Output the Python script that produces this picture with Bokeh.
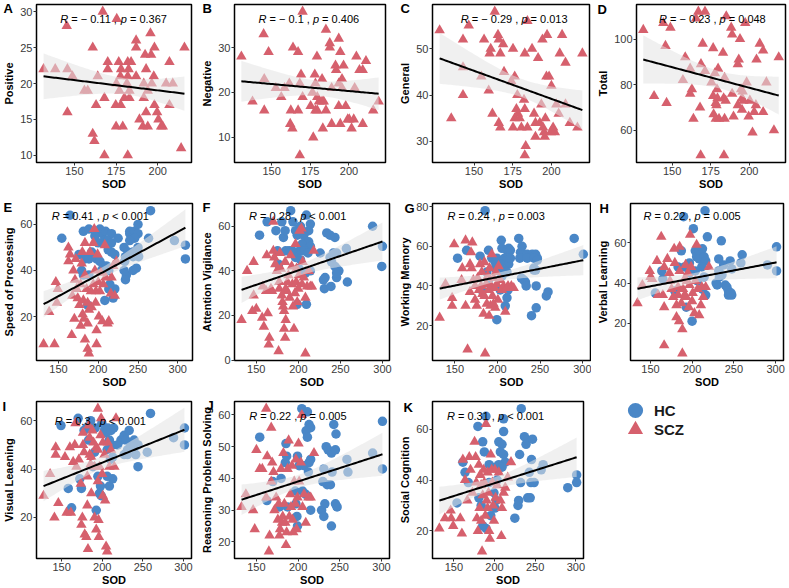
import numpy as np
from bokeh.plotting import figure
from bokeh.models import Range1d, Label, Legend, LegendItem, FixedTicker
from bokeh.layouts import row, column
from bokeh.embed import file_html
from bokeh.resources import INLINE

RED = "#D6606D"
BLUE = "#4A87C7"
FONT = "Liberation Sans"

# ---------------- data ----------------
pos_sod = [131.5, 138.5, 145.4, 145.8, 148.8, 145.8, 156, 158, 161, 164, 163, 161, 162, 167, 168, 168, 170, 170, 175.4, 176.6, 178, 177.6, 175.2, 174.8, 175, 179, 177, 177.8, 180, 182, 184, 182.5, 182, 181.5, 183, 183, 182, 187, 187, 187, 189, 191, 191.6, 191.6, 192.4, 193, 193, 194, 195.6, 196, 194, 196.4, 197.6, 198, 198, 199.6, 200.4, 202, 203, 205, 207, 207, 209, 214, 216]
pos_score = [22, 22, 28, 22, 21, 16, 19, 19, 25, 21, 17, 13, 12, 30, 10, 18, 23, 22, 29, 23, 22, 21, 20, 17, 14, 14, 19, 17, 18, 23, 23, 22, 21, 20, 19, 18, 10, 26, 25, 21, 15, 14, 20, 18, 24, 22, 16, 14, 27, 24, 19, 20, 21, 25, 17, 16, 15, 14, 14, 20, 23, 17, 20, 11, 25]

neg_sod = [130.4, 137.6, 144.8, 145.2, 145.2, 148, 152.7, 156.2, 158.3, 161.4, 163.8, 162.4, 162, 163.4, 167.1, 167.1, 168.2, 169, 168.2, 170, 170, 175.2, 176.4, 176.9, 177.9, 179.3, 178.3, 178.3, 179.5, 179.5, 180.6, 182.6, 182.6, 183.7, 183.1, 185.1, 185.1, 187.6, 187.6, 188.8, 188.8, 191.3, 191.7, 193.4, 193.4, 194.4, 195.5, 193.4, 194.4, 196.5, 195.5, 197.9, 199.2, 200.2, 201.7, 203.1, 203.7, 204.8, 206.8, 208.9, 208.9, 211, 215.7, 219.2]
neg_score = [28, 18, 33, 23, 16, 29, 21, 19, 21, 22, 30, 16, 13, 12, 29, 16, 6, 24, 22, 19, 38, 17, 20, 10, 24, 28, 22, 16, 16, 19, 18, 23, 18, 18, 12, 16, 34, 31, 30, 21, 13, 26, 25, 32, 22, 29, 23, 17, 13, 26, 21, 17, 14, 14, 12, 14, 21, 28, 25, 25, 13, 27, 16, 18]

gen_sod = [127.8, 135.3, 142.9, 142.9, 142.9, 146.6, 154.7, 156.5, 159.5, 160.1, 160.8, 161.9, 163.4, 165.5, 166, 166, 167, 167, 168.8, 169.4, 174.1, 175.2, 176.3, 175.2, 176.3, 177.4, 178, 178.4, 179.5, 180.6, 182.3, 182.8, 182.8, 183.4, 182.8, 184.5, 184.5, 187.5, 188.8, 189.7, 189.7, 191.4, 193.5, 194.2, 192.5, 194.6, 195.3, 195.7, 196.1, 196.8, 197.2, 198.5, 199.6, 201.1, 202.2, 200, 203.2, 204.7, 205.4, 206.9, 209.1, 209.1, 211.9, 216.8, 220]
gen_score = [54, 35, 52, 46, 40, 55, 44, 52, 41, 49, 50, 36, 58, 53, 52, 34, 33, 49, 51, 45, 43, 50, 44, 33, 35, 37, 40, 36, 35, 33, 39, 49, 37, 29, 27, 33, 56, 50, 36, 34, 31, 48, 38, 52, 34, 33, 32, 31, 35, 44, 53, 44, 32, 33, 32, 42, 38, 36, 49, 53, 47, 38, 34, 33, 49]

tot_sod = [131.3, 138.3, 144.3, 145.7, 146.4, 148.9, 158.5, 157, 161.7, 162.8, 161.7, 163.8, 165.5, 167, 171.3, 168.1, 168.7, 169.8, 168.5, 171.3, 176.6, 177.7, 179.8, 175.5, 176.6, 176.9, 178.3, 178.3, 179.1, 179.4, 180.4, 178.7, 183, 183.4, 184, 184.7, 184, 183.6, 185.1, 188.3, 188.9, 188.9, 189.8, 192.6, 193.2, 194, 192.6, 194.7, 195.3, 195.3, 195.7, 196.2, 197.4, 198.3, 199.6, 200.4, 202.1, 203.2, 204.3, 204.7, 206.8, 209, 209, 211.1, 216, 219.1]
tot_score = [104, 75, 107, 97, 72, 105, 92, 82, 87, 78, 76, 65, 109, 112, 112, 70, 89, 98, 49, 86, 96, 85, 87, 81, 75, 67, 65, 72, 78, 74, 65, 71, 94, 74, 83, 73, 65, 49, 110, 105, 102, 76, 66, 89, 91, 100, 71, 78, 74, 69, 77, 73, 107, 81, 66, 73, 59, 68, 71, 91, 98, 95, 68, 81, 60, 92]

sop_scz_sod = [131.3, 145, 146.7, 138.3, 149.2, 148, 162.5, 164.6, 162.5, 167.5, 166.7, 170, 170.8, 171.7, 172.9, 174.2, 176.3, 177.9, 179.2, 180, 181.3, 180.4, 182, 183.3, 183.3, 185.4, 186.7, 186.7, 188.3, 186.7, 188.3, 189.6, 191.7, 193.8, 195, 195.8, 197.1, 197.9, 197.9, 199.2, 200, 200.8, 202.1, 203.3, 205, 206.3, 208.3, 209.2, 211.7, 213.3, 215.8, 216.7, 218.8, 220.8, 222.9, 168.8, 190.8, 193.8, 196.7, 183.3, 177.9]
sop_scz = [8, 8, 35, 22, 32, 26, 50, 47, 44, 29, 12, 19, 36, 45, 32, 28, 25, 16, 43, 48, 27, 21, 19, 10, 52, 32, 26, 17, 23, 6, 4, 48, 24, 52, 58, 40, 31, 14, 8, 47, 35, 20, 31, 39, 18, 34, 51, 37, 17, 18, 30, 37, 42, 29, 44, 40, 31, 34, 26, 38, 34]
sop_hc_sod = [164.6, 154.2, 181.3, 188.3, 202.1, 205, 209.2, 216.7, 207.5, 211.7, 216.7, 212.5, 216.7, 220.8, 175.8, 183.3, 188.3, 191.7, 197.9, 202.1, 206.3, 210.4, 213.3, 204.2, 179.2, 181.3, 188.3, 220.8, 217.5, 213.3, 214.6, 208.3, 186.7, 218.8, 232.5, 234.2, 239.6, 239.6, 245.8, 250, 250, 245.8, 239.6, 232.5, 235.4, 234.2, 243.8, 247.9, 250, 250.8, 243.8, 233.3, 237.5, 243.8, 265.8, 295.8, 309.6, 309.6, 263.3, 225, 200, 195.8]
sop_hc = [64, 54, 57, 58, 58, 56, 57, 56, 53, 53, 52, 49, 48, 47, 47, 45, 45, 48, 45, 44, 42, 42, 40, 40, 40, 38, 38, 32, 31, 32, 34, 27, 25, 28, 50, 46, 56, 57, 57, 60, 56, 54, 53, 40, 38, 36, 40, 41, 50, 46, 46, 44, 48, 48, 66, 53, 51, 45, 54, 54, 52, 55]

av_scz_sod = [132.5, 139.1, 146.9, 146.9, 145.3, 150, 157, 159, 162.5, 163.6, 165.6, 164.8, 167.5, 168.7, 170.3, 170.3, 171.4, 172.6, 174.5, 176.5, 177.3, 177.3, 178, 180.4, 181.2, 182, 183.1, 183.1, 184.3, 184.3, 185, 186.2, 187, 188.2, 189.7, 190.9, 192.1, 192.9, 193.6, 194.8, 196, 196.7, 197.5, 197.9, 198.7, 199.9, 200.6, 201.4, 203.7, 204.5, 205.3, 206.5, 208.4, 208.4, 210.4, 212.3, 214.3, 216.2, 218.2, 185, 179.2, 157.8, 161.7]
av_scz = [18, 40, 44, 29, 22, 23, 19, 15, 47, 21, 10, 7, 32, 31, 49, 62, 46, 43, 40, 4, 35, 32, 48, 29, 26, 24, 22, 14, 10, 44, 18, 31, 35, 38, 28, 47, 42, 34, 24, 14, 30, 52, 35, 41, 26, 32, 38, 58, 59, 34, 44, 37, 3, 28, 33, 40, 33, 33, 49, 32, 41, 33, 31]
av_hc_sod = [153.9, 162.9, 173.4, 180.4, 190.9, 182.3, 184.3, 193.6, 196.7, 202.6, 209.6, 214.3, 212.3, 198.7, 206.5, 208.4, 212.3, 204.5, 214.3, 201.4, 207.6, 211.5, 189, 192.9, 185, 175.3, 176.5, 196.7, 202.6, 200.6, 214.3, 208.4, 198.7, 209.6, 226, 231, 231.8, 229.9, 233.8, 237.7, 243.5, 237.7, 239.6, 241.6, 245.5, 243.5, 245.5, 245.5, 248.2, 238.8, 258.3, 257.1, 288.3, 300, 299.2, 245.5]
av_hc = [56, 62, 58, 62, 67, 55, 58, 62, 58, 60, 65, 61, 58, 56, 56, 53, 53, 52, 51, 49, 49, 48, 49, 49, 49, 49, 43, 46, 45, 41, 40, 39, 25, 25, 48, 32, 37, 36, 57, 56, 55, 46, 44, 48, 48, 42, 41, 37, 40, 33, 35, 50, 60, 51, 42, 39]

wm_scz_sod = [132.2, 139, 146.8, 146.8, 149.2, 157.9, 162.6, 162.6, 164.9, 170.5, 169, 167.8, 167.8, 169.7, 171.7, 173.7, 175.7, 176.8, 178.4, 179.6, 181.6, 182.4, 183.6, 184.7, 185.5, 186.7, 187.5, 188.7, 189.5, 190.7, 191.8, 192.6, 193.4, 194.2, 195.4, 196.6, 197.4, 198.2, 199.3, 200.5, 201.3, 203.3, 205.3, 207.2, 209.2, 211.2, 212.4, 216.3, 219.1, 158.7, 173.7, 180.8, 184.7, 190.3, 195.4]
wm_scz = [24, 41, 34, 30, 61, 43, 63, 30, 8, 62, 57, 51, 37, 49, 43, 33, 30, 44, 38, 51, 47, 36, 26, 52, 6, 41, 31, 45, 38, 49, 30, 40, 56, 35, 44, 39, 29, 47, 41, 33, 50, 43, 38, 40, 27, 39, 40, 40, 39, 49, 40, 40, 35, 25, 31]
wm_hc_sod = [153.2, 163.8, 185.5, 179.6, 189.5, 187.5, 193.4, 197.4, 199.3, 204.5, 205.3, 211.2, 213.2, 215.2, 208.4, 211.2, 213.2, 215.2, 203.3, 207.2, 211.2, 205.3, 197.4, 189.5, 181.6, 199.3, 209.2, 211.2, 212.4, 203.3, 225, 227, 230.1, 226.2, 228.9, 234.9, 240.8, 244.8, 246.8, 234.9, 242.8, 246.8, 228.2, 231, 232.9, 233.7, 242.8, 242.8, 240, 245.5, 245.5, 257.4, 259.4, 290.1, 300.8, 244.8]
wm_hc = [54, 58, 78, 55, 58, 47, 54, 52, 54, 63, 59, 58, 59, 58, 54, 53, 51, 54, 51, 48, 47, 45, 49, 43, 38, 23, 30, 34, 38, 38, 64, 57, 56, 54, 60, 56, 56, 56, 54, 54, 54, 53, 44, 43, 42, 40, 49, 48, 25, 40, 29, 35, 37, 64, 56, 48]

vl_scz_sod = [134.4, 140.3, 149.2, 150, 152, 157.8, 158.9, 162.9, 164.8, 166.4, 166.4, 166.4, 170.3, 172.6, 173.4, 175.3, 178.4, 179.2, 181.2, 181.2, 183.1, 184.3, 185, 185, 187, 188.2, 188.2, 189, 190.9, 192.1, 192.9, 194.8, 196, 196.7, 197.5, 198.7, 199.9, 200.6, 202.6, 203.7, 205.3, 206.5, 208.4, 210.4, 211.5, 213.1, 216.2, 220.1, 177.3, 183.1, 190.9, 193.6]
vl_scz = [30, 39, 46, 43, 42, 51, 34, 63, 34, 9, 28, 48, 52, 45, 41, 37, 57, 50, 29, 23, 34, 21, 58, 46, 30, 17, 5, 37, 42, 49, 33, 45, 28, 39, 64, 48, 31, 35, 25, 41, 59, 37, 24, 29, 38, 33, 38, 48, 33, 38, 34, 41]
vl_hc_sod = [155.8, 163.6, 164.8, 187, 189.7, 183.1, 196.7, 201.4, 203.7, 205.3, 208.4, 212.3, 215.4, 218.2, 208.4, 214.3, 216.2, 211.5, 203.7, 196.7, 190.9, 214.3, 216.2, 212.3, 206.5, 199.9, 231.8, 234.9, 231.8, 232.6, 229.9, 228.7, 235.7, 239.6, 241.6, 245.5, 247.4, 243.5, 243.5, 247.4, 246.6, 259.9, 258.3, 290.2, 301.1, 301.1, 237.7, 179.2, 192.9]
vl_hc = [35, 46, 42, 56, 73, 48, 50, 67, 56, 53, 56, 57, 76, 63, 52, 53, 51, 48, 46, 45, 48, 43, 34, 37, 41, 21, 52, 61, 46, 43, 39, 40, 44, 39, 38, 51, 47, 36, 34, 34, 35, 54, 50, 49, 58, 46, 49, 36, 28]

vis_scz_sod = [127.7, 135.8, 141.1, 142.7, 142.7, 145.9, 154.1, 156.1, 160.1, 161.4, 164.2, 166.2, 167, 168.2, 171.1, 173.5, 174.3, 175.5, 176.3, 176.3, 177.6, 178.4, 180.4, 181.6, 181.6, 182.4, 183.2, 184.5, 184.5, 185.7, 186.5, 187.7, 189.3, 190.5, 190.5, 192.6, 192.6, 194.6, 194.6, 195.4, 195.8, 196.6, 197.8, 198.6, 199.9, 200.7, 202.7, 203.5, 204.7, 206, 206.8, 208.8, 210.8, 214.9, 216.9, 200.7, 186.5, 194.6]
vis_scz = [29, 38, 20, 49, 46, 26, 45, 22, 49, 22, 43, 50, 59, 41, 44, 34, 17, 20, 55, 50, 47, 13, 12, 25, 37, 7, 58, 46, 53, 42, 30, 56, 51, 41, 20, 15, 49, 65, 48, 19, 12, 41, 54, 61, 38, 51, 46, 27, 8, 6, 51, 41, 48, 41, 61, 29, 45, 35]
vis_hc_sod = [149.2, 158.1, 162.2, 170.3, 172.3, 174.3, 177.6, 183.2, 185.7, 188.5, 190.5, 191.3, 194.6, 196.6, 198.6, 197.8, 192.6, 199.5, 202.7, 204.7, 206.8, 210.8, 214.1, 208.8, 212, 206, 210, 212.8, 208.8, 212.8, 206, 223, 227, 229, 233.1, 231.1, 227, 231.1, 235.1, 239.2, 239.2, 241.2, 244, 244, 255.4, 259.4, 287.8, 301.2, 301.2, 218.9, 180.4]
vis_hc = [58, 32, 24, 61, 36, 32, 56, 52, 60, 41, 47, 57, 37, 30, 29, 33, 23, 59, 56, 55, 57, 56, 57, 52, 50, 48, 44, 45, 33, 36, 37, 52, 54, 52, 56, 48, 46, 46, 50, 52, 49, 46, 50, 41, 47, 63, 53, 57, 50, 50, 57]

rps_scz_sod = [132.2, 137.4, 146.1, 148, 150, 157.1, 161.8, 163, 161.8, 165, 165.8, 167.8, 169, 170.5, 171.7, 173.7, 175.7, 176.8, 177.6, 178.4, 179.6, 180.8, 181.6, 182.4, 183.6, 184.7, 185.5, 186.3, 187.5, 188.7, 189.5, 190.7, 191.5, 192.6, 193.4, 194.2, 195.4, 196.6, 197.4, 198.2, 199.3, 200.5, 201.3, 203.3, 204.5, 205.3, 207.2, 209.2, 212.4, 215.1, 219.1, 167.8, 154]
rps_scz = [31, 35, 30, 24, 49, 43, 62, 47, 34, 17, 22, 56, 45, 42, 30, 34, 27, 32, 22, 24, 43, 26, 28, 48, 32, 26, 19, 23, 43, 52, 28, 35, 31, 44, 27, 23, 39, 32, 46, 24, 34, 51, 39, 45, 60, 31, 35, 26, 34, 34, 48, 39, 43]
rps_hc_sod = [154, 162.6, 179.6, 184.7, 185.5, 186.3, 187.5, 196.6, 197.4, 198.6, 199.3, 199.3, 201.3, 204.5, 211.2, 213.2, 215.1, 209.6, 211.2, 207.2, 213.2, 215.1, 212.4, 215.1, 209.2, 205.3, 228.2, 230.9, 232.1, 233.7, 236.1, 230.9, 229.7, 234.9, 238.8, 240, 242.8, 244.8, 245.5, 244.8, 246.8, 240, 240.8, 258.6, 259.8, 289.4, 301.2, 301.2, 169.7, 177.6]
rps_hc = [53, 33, 40, 45, 51, 47, 31, 36, 32, 28, 25, 47, 44, 62, 61, 57, 56, 55, 53, 44, 45, 46, 42, 30, 35, 36, 30, 28, 32, 50, 49, 43, 39, 38, 38, 48, 57, 49, 54, 32, 31, 25, 42, 46, 42, 48, 58, 43, 39, 31]

sc_scz_sod = [132.2, 139, 146.1, 146.8, 149.2, 157.9, 159.9, 161.1, 163.8, 166.6, 169, 170.5, 172.9, 175.5, 176.8, 177.6, 178.4, 179.6, 180.8, 181.6, 182.4, 183.6, 184.7, 185.5, 186.7, 187.5, 188.7, 189.5, 190.3, 191.5, 192.6, 193.4, 194.2, 195.4, 196.6, 197.4, 198.2, 199.3, 200.5, 201.3, 203.3, 205.3, 207.2, 208.4, 209.2, 211.2, 213.2, 216.3, 220.3, 183.6, 191.5]
sc_scz = [21, 25, 28, 25, 22, 25, 19, 48, 40, 32, 49, 44, 35, 55, 49, 39, 25, 20, 46, 29, 42, 24, 12, 34, 44, 39, 26, 62, 32, 43, 35, 20, 17, 50, 44, 39, 30, 24, 44, 33, 38, 43, 32, 18, 29, 35, 37, 41, 47, 38, 29]
sc_hc_sod = [153.9, 161.1, 163.8, 167.8, 179.6, 185.5, 187.5, 189.5, 180.8, 183.6, 185.5, 189.5, 193.4, 195.4, 200.5, 202.1, 199.3, 203.3, 205.3, 209.2, 211.2, 211.2, 207.2, 211.2, 213.2, 205.3, 209.2, 200.5, 193.4, 225, 228.9, 229.7, 230.9, 232.1, 232.9, 236.8, 238.8, 240.8, 243.9, 244.8, 245.5, 246.7, 242.8, 248.7, 257.4, 259.8, 290.1, 301, 301]
sc_hc = [31, 47, 43, 39, 61, 55, 51, 65, 33, 30, 22, 21, 39, 26, 29, 32, 35, 40, 55, 54, 59, 64, 51, 50, 47, 46, 45, 45, 46, 25, 30, 32, 50, 39, 68, 57, 54, 33, 33, 39, 48, 56, 43, 39, 44, 46, 37, 42, 39]

panel_letters = ["A", "B", "C", "D", "E", "F", "G", "H", "I", "J", "K"]
y_titles = ["Positive", "Negative", "General", "Total", "Speed of Processing",
            "Attention Vigilance", "Working Memory", "Verbal Learning",
            "Visual Leaening", "Reasoning Problem Solving", "Social Cognition"]
x_title = "SOD"
r_values = [-0.11, -0.1, -0.29, -0.23, 0.41, 0.28, 0.24, 0.22, 0.3, 0.22, 0.31]
p_texts = ["= 0.367", "= 0.406", "= 0.013", "= 0.048", "< 0.001", "< 0.001",
           "= 0.003", "= 0.005", "< 0.001", "= 0.005", "< 0.001"]
x_ticks_scz = [150, 175, 200]
x_ticks_all = [150, 200, 250, 300]
y_ticks = [[10, 15, 20, 25, 30], [10, 20, 30], [30, 40, 50], [60, 80, 100],
           [0, 20, 40, 60], [0, 20, 40, 60], [20, 40, 60, 80], [20, 40, 60],
           [20, 40, 60], [20, 30, 40, 50, 60], [20, 40, 60]]
group_labels = ["HC", "SCZ"]

series = [
    (pos_sod, pos_score, None, None),
    (neg_sod, neg_score, None, None),
    (gen_sod, gen_score, None, None),
    (tot_sod, tot_score, None, None),
    (sop_scz_sod, sop_scz, sop_hc_sod, sop_hc),
    (av_scz_sod, av_scz, av_hc_sod, av_hc),
    (wm_scz_sod, wm_scz, wm_hc_sod, wm_hc),
    (vl_scz_sod, vl_scz, vl_hc_sod, vl_hc),
    (vis_scz_sod, vis_scz, vis_hc_sod, vis_hc),
    (rps_scz_sod, rps_scz, rps_hc_sod, rps_hc),
    (sc_scz_sod, sc_scz, sc_hc_sod, sc_hc),
]

# layout: grid row, col, width, height, border l, r, t, b,
#         letter x, letter top (cell px), annotation dy below frame top
geom = [
    (0, 0, 197, 192, 34, 6, 3, 30, 3, 0.5, 15.0),
    (0, 1, 197, 192, 37, 9, 4, 30, 5, 0.5, 14.7),
    (0, 2, 197, 192, 38, 2, 4, 30, 6, 0.5, 14.3),
    (0, 3, 198, 192, 45, 4, 4, 30, 6, 1.5, 14.3),
    (1, 0, 197, 198, 34, 5, 11, 29, 3, 7.5, 13.7),
    (1, 1, 197, 198, 37, 5, 11, 29, 5, 7.5, 13.7),
    (1, 2, 197, 198, 38, 1, 11, 29, 10, 8.5, 13.0),
    (1, 3, 198, 198, 39, 6, 11, 29, 8, 8.5, 13.0),
    (2, 0, 197, 198, 35, 6, 11, 30, 2, 8.5, 19.7),
    (2, 1, 197, 198, 37, 5, 11, 30, 9, 7.5, 14.0),
    (2, 2, 197, 198, 38, 8, 11, 30, 9, 9.5, 14.0),
]
col_x0 = [0, 197, 394, 591]
row_h = [192, 198, 198]
PAGE_W = 789

ANNOT_X = 141.5
FS = 11

WID = {' ': .278, '=': .584, '\u2212': .584, '<': .584, '.': .278, ',': .278,
       'R': .722, 'p': .556}


def tw(s, size=FS):
    return sum(WID.get(c, .556) for c in s) * size


def fit_band(xs, ys):
    x = np.asarray(xs, float)
    y = np.asarray(ys, float)
    n = x.size
    xm, ym = x.mean(), y.mean()
    sxx = np.sum((x - xm) ** 2)
    slope = np.sum((x - xm) * (y - ym)) / sxx
    icpt = ym - slope * xm
    s = np.sqrt(np.sum((y - icpt - slope * x) ** 2) / (n - 2))
    df = n - 2
    z = 1.959964
    t = z + (z ** 3 + z) / (4 * df) + (5 * z ** 5 + 16 * z ** 3 + 3 * z) / (96 * df ** 2)
    gx = np.linspace(x.min(), x.max(), 80)
    fit = icpt + slope * gx
    half = t * s * np.sqrt(1.0 / n + (gx - xm) ** 2 / sxx)
    return gx, fit, fit - half, fit + half


def padded(vals):
    lo, hi = min(vals), max(vals)
    pad = (hi - lo) * 0.05
    return Range1d(lo - pad, hi + pad)


def make_panel(i):
    sx, sy, hx, hy = series[i]
    gr, gc, w, h, bl, br, bt, bb, lx, ltop, ady = geom[i]
    all_x = list(sx) + (list(hx) if hx else [])
    all_y = list(sy) + (list(hy) if hy else [])
    p = figure(width=w, height=h, output_backend="svg", toolbar_location=None,
               x_range=padded(all_x), y_range=padded(all_y),
               min_border_left=bl, min_border_right=br,
               min_border_top=bt, min_border_bottom=bb)
    p.grid.visible = False
    p.outline_line_color = "black"
    p.outline_line_width = 1.5
    p.background_fill_color = "white"
    p.border_fill_color = "white"

    p.xaxis.ticker = FixedTicker(ticks=x_ticks_all if hx else x_ticks_scz)
    p.yaxis.ticker = FixedTicker(ticks=y_ticks[i])
    p.xaxis.axis_label = x_title
    p.yaxis.axis_label = y_titles[i]
    for ax in list(p.xaxis) + list(p.yaxis):
        ax.axis_line_color = None
        ax.major_tick_line_color = "#333333"
        ax.major_tick_out = 3
        ax.major_tick_in = 0
        ax.minor_tick_line_color = None
        ax.major_label_text_font = FONT
        ax.major_label_text_font_size = f"{FS}px"
        ax.major_label_text_color = "#3a3a3a"
        ax.major_label_standoff = 1
        ax.axis_label_text_font = FONT
        ax.axis_label_text_font_size = f"{FS}px"
        ax.axis_label_text_font_style = "bold"
        ax.axis_label_text_color = "black"
    p.xaxis.axis_label_standoff = 0
    p.yaxis.axis_label_standoff = 2

    if hx:
        p.scatter(hx, hy, marker="circle", size=9.5, fill_color=BLUE, line_color=None)
    p.scatter(sx, sy, marker="triangle", size=10.5, fill_color=RED, line_color=None)

    gx, fit, lo, hi = fit_band(all_x, all_y)
    p.varea(x=gx, y1=lo, y2=hi, fill_color="#e3e3e3", fill_alpha=0.55)
    p.line(gx, fit, line_color="black", line_width=2)

    # annotation  R = r , p = ...
    r = r_values[i]
    rtxt = ("\u2212 " + str(abs(r))) if r < 0 else str(r)
    seg2 = f"= {rtxt} ,"
    yscreen = (h - bt - bb) - ady
    offs = [0, tw("R "), tw(f"R {seg2} "), tw(f"R {seg2} p ")]
    texts = ["R", seg2, "p", p_texts[i]]
    styles = ["italic", "normal", "italic", "normal"]
    for off, txt, st in zip(offs, texts, styles):
        p.add_layout(Label(x=ANNOT_X, y=yscreen, x_units="data", y_units="screen",
                           x_offset=off, text=txt, text_font=FONT,
                           text_font_size=f"{FS}px", text_font_style=st,
                           text_color="black", text_baseline="middle",
                           text_align="left"))
    return p


def make_overlay(r):
    """Transparent full-width strip laid over one row; carries the panel letters."""
    h = row_h[r]
    q = figure(width=PAGE_W, height=h, output_backend="svg", toolbar_location=None,
               x_axis_location=None, y_axis_location=None,
               x_range=Range1d(0, 1), y_range=Range1d(0, 1),
               min_border_left=0, min_border_right=0,
               min_border_top=0, min_border_bottom=0,
               margin=(-h, 0, 0, 0))
    q.grid.visible = False
    q.outline_line_color = None
    q.background_fill_color = None
    q.border_fill_color = None
    for i, g in enumerate(geom):
        if g[0] != r:
            continue
        q.add_layout(Label(x=col_x0[g[1]] + g[8], y=h - g[9],
                           x_units="screen", y_units="screen",
                           text=panel_letters[i], text_font=FONT, text_font_size="13px",
                           text_font_style="bold", text_color="black",
                           text_baseline="top", text_align="left"))
    return q


figs = [make_panel(i) for i in range(11)]

# legend cell: the group renderers here use the group data but lie outside the
# (0, 1) ranges of this cell, so only their legend entries show
lg = figure(width=198, height=198, output_backend="svg", toolbar_location=None,
            x_axis_location=None, y_axis_location=None,
            x_range=Range1d(0, 1), y_range=Range1d(0, 1),
            min_border_left=24, min_border_right=0, min_border_top=0,
            min_border_bottom=0)
lg.grid.visible = False
lg.outline_line_color = None
lg.background_fill_color = "white"
lg.border_fill_color = "white"
r_hc = lg.scatter(sop_hc_sod, sop_hc, marker="circle", size=15,
                  fill_color=BLUE, line_color=None)
r_scz = lg.scatter(sop_scz_sod, sop_scz, marker="triangle", size=15,
                   fill_color=RED, line_color=None)
leg_common = dict(orientation="vertical", glyph_width=38, glyph_height=38, spacing=0,
                  margin=0, padding=0, label_standoff=-4, border_line_color=None,
                  background_fill_alpha=0, label_text_font=FONT,
                  label_text_font_size="15px", label_text_font_style="bold",
                  label_text_color="#1a1a1a")
lg.add_layout(Legend(items=[LegendItem(label=group_labels[0], renderers=[r_hc])],
                     location=(1, 129), **leg_common))
lg.add_layout(Legend(items=[LegendItem(label=group_labels[1], renderers=[r_scz])],
                     location=(1, 110), **leg_common))

root = column(row(*figs[0:4]), make_overlay(0),
              row(*figs[4:8]), make_overlay(1),
              row(*figs[8:11], lg), make_overlay(2))

with open("out.html", "w") as f:
    f.write(file_html(root, INLINE))
